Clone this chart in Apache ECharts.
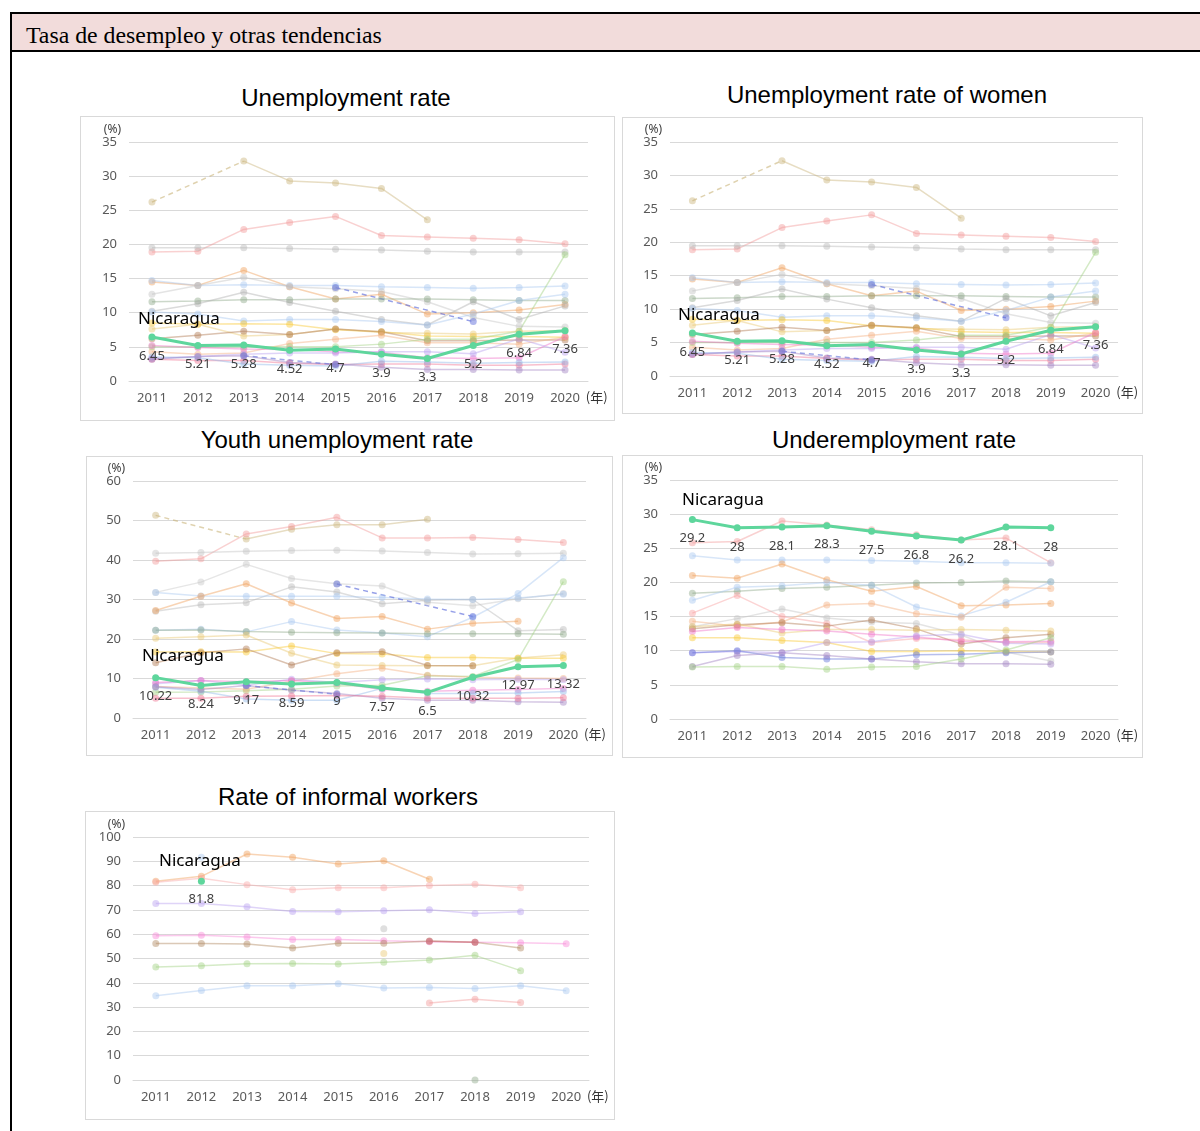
<!DOCTYPE html>
<html><head><meta charset="utf-8">
<script src="https://cdn.jsdelivr.net/npm/echarts@6/dist/echarts.min.js"></script>
<style>
body{margin:0;background:#fff;width:1200px;height:1131px;overflow:hidden;position:relative;font-family:'Liberation Sans',Arial,sans-serif;}
.frame{position:absolute;left:10px;top:12px;width:1200px;height:1130px;border-left:2px solid #000;border-top:2px solid #000;}
.hdr{position:absolute;left:12px;top:14px;width:1188px;height:38px;background:#f2dcdb;border-bottom:2px solid #000;font-family:'Liberation Serif','Times New Roman',serif;font-size:23.8px;line-height:42px;padding-left:14px;box-sizing:border-box;color:#000;}
.ttl{position:absolute;font-size:24px;color:#000;text-align:center;width:500px;line-height:28px;}
.box{position:absolute;border:1px solid #d9d9d9;box-sizing:border-box;background:#fff;}
</style></head>
<body>
<div class="frame"></div>
<div class="hdr">Tasa de desempleo y otras tendencias</div>
<div class="ttl" style="left:96px;top:84px">Unemployment rate</div>
<div class="ttl" style="left:637px;top:81px">Unemployment rate of women</div>
<div class="ttl" style="left:87px;top:426px">Youth unemployment rate</div>
<div class="ttl" style="left:644px;top:426px">Underemployment rate</div>
<div class="ttl" style="left:98px;top:783px">Rate of informal workers</div>
<div class="box" id="c1" style="left:80px;top:116px;width:535px;height:305px"></div>
<div class="box" id="c2" style="left:622px;top:117px;width:521px;height:297px"></div>
<div class="box" id="c3" style="left:86px;top:456px;width:527px;height:300px"></div>
<div class="box" id="c4" style="left:622px;top:455px;width:521px;height:303px"></div>
<div class="box" id="c5" style="left:85px;top:811px;width:530px;height:309px"></div>
<script>
// ---------- DATA ----------
const years = ['2011','2012','2013','2014','2015','2016','2017','2018','2019','2020'];

// Unemployment rate (also used by "Unemployment rate of women", which shows identical figures)
const unempNicaragua = [6.45, 5.21, 5.28, 4.52, 4.7, 3.9, 3.3, 5.2, 6.84, 7.36];
const unempOthers = [
  [26.2, null, 32.2, 29.3, 29.0, 28.2, 23.6, null, null, null],
  [18.9, 19.0, 22.2, 23.2, 24.1, 21.3, 21.1, 20.9, 20.7, 20.1],
  [19.5, 19.5, 19.5, 19.4, 19.3, 19.2, 19.0, 18.9, 18.9, 18.9],
  [14.5, 14.0, 16.2, 13.8, 12.0, 12.7, 9.8, 10.0, 10.4, 11.2],
  [14.7, 14.0, 14.1, 14.0, 14.0, 13.8, 13.7, 13.6, 13.7, 13.9],
  [12.7, 14.0, 15.2, 13.8, 13.5, 13.1, 11.6, 9.3, 8.0, 7.9],
  [11.6, 11.7, 11.9, 11.9, 12.0, 12.0, 12.0, 11.9, 11.8, 11.8],
  [10.2, 11.3, 13.0, 11.5, 10.2, 9.0, 8.2, 11.6, 9.0, 11.0],
  [10.1, 9.8, 8.8, 9.0, 9.0, 8.7, 8.2, 9.8, 11.8, 12.7],
  [null, null, null, null, 13.7, null, null, 8.7, null, null],
  [8.5, 8.3, 8.4, 8.3, 7.5, 7.2, 6.6, 6.5, 6.5, 6.4],
  [7.6, 8.3, 6.6, 6.8, 7.6, 7.1, 7.0, 6.9, 7.3, 7.4],
  [6.2, 6.7, 7.3, 6.8, 7.6, 7.2, 5.9, 5.9, 6.0, 6.0],
  [4.3, 3.9, 4.1, 5.5, 6.1, 6.7, 5.6, 5.6, 5.4, 6.4],
  [5.0, 5.0, 5.0, 5.0, 5.0, 5.4, 6.1, 6.1, 7.3, 18.5],
  [5.2, 4.9, 4.7, 4.6, 4.3, 4.2, 3.4, 3.3, 3.4, 6.5],
  [3.3, 3.6, 3.9, 4.1, 4.1, 4.3, 4.3, 4.0, 6.2, 4.2],
  [3.2, 3.0, 3.0, 2.6, 2.4, 2.5, 2.5, 2.3, 2.3, 2.5],
  [3.5, 3.4, 2.5, 2.3, 2.2, 2.9, 2.8, 2.6, 2.7, 2.8],
  [3.2, 3.6, 3.7, 2.7, 2.5, 2.0, 1.7, 1.7, 1.6, 1.6],
  [null, null, 3.7, null, 2.4, null, null, null, null, null]
];
const unempColors = ['#c9b47a','#f29a9a','#b8b8b8','#f0a05a','#a9c8f0','#c4c4c4','#8fa88a','#b0b0b0','#a9c8f0','#5060d8','#f8c830','#e8c870','#b07850','#f5b080','#a0d080','#f070c8','#b8a0f0','#f07090','#90b8e8','#a080c0','#6070d8'];

// Youth unemployment rate
const youthNicaragua = [10.22, 8.24, 9.17, 8.59, 9, 7.57, 6.5, 10.32, 12.97, 13.32];
const youthOthers = [
  [51.3, null, 45.3, 47.8, 48.9, 48.9, 50.3, null, null, null],
  [39.7, 40.3, 46.6, 48.5, 50.8, 45.6, 45.6, 45.7, 45.2, 44.4],
  [41.7, 41.9, 42.2, 42.4, 42.5, 42.3, 41.9, 41.5, 41.6, 41.7],
  [31.8, 34.4, 38.9, 35.3, 34.0, 33.4, 29.3, 28.4, 30.2, 31.5],
  [27.0, 28.7, 29.2, 33.2, 31.9, 28.9, 29.8, 30.0, 22.1, 22.4],
  [31.8, 30.9, 30.8, 30.8, 30.8, 30.5, 30.1, 30.0, 30.4, 31.3],
  [27.2, 30.8, 34.0, 29.1, 25.2, 25.7, 22.5, 24.0, 24.5, null],
  [22.2, 22.5, 21.8, 24.4, 22.3, 21.5, 20.6, 25.5, 31.5, 40.6],
  [22.2, 22.3, 21.9, 21.7, 21.6, 21.5, 21.3, 21.3, 21.3, 21.2],
  [null, null, null, null, 33.9, null, null, 25.7, null, null],
  [20.2, 20.6, 21.0, 16.4, 13.4, 13.3, 13.2, 13.2, 15.2, 16.0],
  [16.7, 16.8, 16.7, 18.2, 16.3, 16.2, 15.3, 15.3, 15.1, 15.1],
  [14.0, 16.5, 17.5, 13.4, 16.5, 16.8, 13.3, 13.2, null, null],
  [6.5, 6.6, 6.9, 7.3, 8.1, 8.3, 10.7, 10.5, 14.8, 34.5],
  [8.0, 7.6, 7.3, 9.3, 11.2, 12.6, 10.8, 10.3, 10.1, 10.0],
  [8.7, 9.5, 8.3, 9.8, 9.0, 9.7, 9.9, 9.7, 9.8, 9.7],
  [9.0, 9.5, 9.2, 9.5, 8.8, 7.2, 6.8, 7.0, 7.2, 7.5],
  [7.8, 6.8, 4.8, 4.5, 4.5, 7.5, 6.2, 6.2, 6.3, 6.7],
  [7.9, 7.2, 8.2, 7.0, 6.2, 5.0, 4.5, 4.5, 4.1, 4.0],
  [5.0, 5.0, 5.5, 5.6, 5.7, 5.5, 5.0, 5.0, 5.0, 5.1],
  [null, null, 8.2, null, 6.0, null, null, null, null, null]
];
const youthColors = ['#c9b47a','#f29a9a','#c4c4c4','#c8c8c8','#b8b8b8','#a9c8f0','#f0a05a','#a9c8f0','#8fa88a','#5060d8','#e8c870','#f8c830','#b07850','#a0d080','#f5b080','#b8a0f0','#f070c8','#90b8e8','#a080c0','#f07090','#6070d8'];

// Underemployment rate
const underNicaragua = [29.2, 28, 28.1, 28.3, 27.5, 26.8, 26.2, 28.1, 28, null];
const underOthers = [
  [25.8, 26.0, 29.0, 28.4, 27.7, 27.0, 26.2, 26.5, 22.9, null],
  [23.9, 23.3, 23.3, 23.3, 23.2, 23.1, 22.9, 22.9, 22.8, null],
  [21.0, 20.6, 22.7, 20.4, 18.7, 19.4, 16.6, 16.7, 16.9, null],
  [18.4, 18.7, 19.1, 19.3, 19.6, 19.9, 20.0, 20.2, 20.1, null],
  [17.4, 19.3, 19.5, 20.0, 19.6, 16.4, 15.1, 17.1, 20.1, null],
  [15.5, 18.1, 15.0, 14.0, 11.2, 11.8, 11.6, 11.2, 11.2, null],
  [14.3, 13.6, 14.2, 16.7, 16.9, 15.4, 14.9, 19.3, 19.1, null],
  [13.5, 14.7, 16.1, 14.8, 14.2, 14.0, 12.3, 9.8, 8.5, null],
  [13.2, 13.8, 14.1, 13.6, 14.5, 13.2, 11.0, 11.9, 12.4, null],
  [13.5, 13.9, 12.6, 13.1, 13.1, 13.0, 13.1, 13.0, 12.9, null],
  [12.8, 13.4, 13.1, 12.9, 12.4, 12.0, 11.4, 11.3, 11.4, null],
  [11.9, 11.9, 11.5, 11.2, 9.9, 9.9, 10.0, 9.9, 9.8, null],
  [9.7, 9.9, 9.7, 11.2, 11.3, 12.2, 12.4, 11.1, 11.0, null],
  [9.7, 10.0, 9.0, 8.8, 8.8, 9.4, 9.5, 9.7, 9.8, null],
  [7.7, 9.3, 9.7, 9.3, 8.8, 8.4, 8.1, 8.1, 8.0, null],
  [7.6, 7.7, 7.7, 7.3, 7.6, 7.7, 8.8, 10.1, 11.9, null]
];
const underColors = ['#f29a9a','#a9c8f0','#f0a05a','#8fa88a','#a9c8f0','#f8a0a0','#f5b080','#c4c4c4','#b07850','#e8c870','#f070c8','#f8c830','#b8a0f0','#6070d8','#a080c0','#a0d080'];

// Rate of informal workers
const informalNicaragua = [null, 81.8, null, null, null, null, null, null, null, null];
const informalOthers = [
  [81.8, 83.8, 93.0, 91.7, 88.9, 90.2, 82.6, null, null, null],
  [81.4, 83.0, 80.4, 78.3, 79.1, 79.1, 80.0, 80.6, 79.1, null],
  [null, 91.7, null, null, null, null, null, null, null, null],
  [72.6, 72.6, 71.3, 69.3, 69.2, 69.6, 70.1, 68.5, 69.2, null],
  [null, null, null, null, null, 62.2, null, null, null, null],
  [59.4, 59.6, 58.8, 57.8, 57.8, 57.3, 56.9, 56.7, 56.5, 56.1],
  [56.2, 56.2, 56.0, 54.3, 56.3, 56.3, 57.2, 56.7, 54.3, null],
  [null, null, null, null, null, null, 57.1, 56.7, null, null],
  [null, null, null, null, null, 52.1, null, null, null, null],
  [46.5, 47.0, 47.8, 47.9, 47.7, 48.5, 49.4, 51.3, 45.0, null],
  [34.7, 36.8, 38.8, 38.8, 39.6, 37.9, 38.1, 37.7, 38.8, 36.7],
  [null, null, null, null, null, null, 31.7, 33.2, 31.9, null],
  [null, null, null, null, null, null, null, 0, null, null]
];
const informalColors = ['#f0a05a','#f8a8a8','#a9c8f0','#b8a0f0','#b8b8b8','#f888d8','#b08860','#d06070','#e8c870','#a0d080','#a9c8f0','#f29a9a','#8fa88a'];

// ---------- CHART BUILDER ----------
const NIC_COLOR = '#5ed69c';
const FONT = "'Noto Sans','Liberation Sans',sans-serif";

function gapSeries(vals){
  // keep only the points bounding interior gaps, so they can be joined with a dashed line
  const out = vals.map(()=>null);
  let found = false;
  for(let i=0;i<vals.length;i++){
    if(vals[i]==null) continue;
    let j=i+1;
    while(j<vals.length && vals[j]==null) j++;
    if(j<vals.length && j>i+1){ out[i]=vals[i]; out[j]=vals[j]; found=true; }
  }
  return found ? out : null;
}

function build(id, cfg){
  const chart = echarts.init(document.getElementById(id), null, {renderer:'canvas'});
  const series = [];
  cfg.others.forEach((vals, k)=>{
    const col = cfg.colors[k % cfg.colors.length];
    series.push({
      type:'line', data: vals, connectNulls:false, symbol:'circle', symbolSize:7,
      showAllSymbol:true, animation:false, silent:true,
      lineStyle:{color:col, width:1.5, opacity:0.45},
      itemStyle:{color:col, opacity:0.45}, z:2
    });
    const g = gapSeries(vals);
    if(g){
      series.push({
        type:'line', data:g, connectNulls:true, symbol:'none', animation:false, silent:true,
        lineStyle:{color:col, width:1.5, opacity:0.6, type:[5,4]}, z:2
      });
    }
  });
  series.push({
    type:'line', data: cfg.nic, connectNulls:false, symbol:'circle', symbolSize:7, showAllSymbol:true,
    animation:false, lineStyle:{color:NIC_COLOR, width:3}, itemStyle:{color:NIC_COLOR}, z:10,
    label:{show:true, position:'bottom', distance:cfg.labelDist||9, color:'#404040', fontSize:13, fontFamily:FONT}
  });
  chart.setOption({
    animation:false,
    grid: cfg.grid,
    xAxis:{
      type:'category', data: years, boundaryGap:true,
      axisLine:{show:true, lineStyle:{color:'#d9d9d9', width:1}}, axisTick:{show:false},
      axisLabel:{color:'#595959', fontSize:13, fontFamily:FONT, margin:11, interval:0},
      name:'(年)', nameLocation:'end', nameGap:-5,
      nameTextStyle:{color:'#333', fontSize:13, fontFamily:"'Noto Sans CJK JP','Noto Sans',sans-serif", verticalAlign:'top', align:'left', padding:[10,0,0,0]}
    },
    yAxis:{
      type:'value', min:0, max:cfg.max, interval:cfg.interval,
      axisLine:{show:false}, axisTick:{show:false},
      splitLine:{lineStyle:{color:'#d9d9d9', width:1}},
      axisLabel:{color:'#595959', fontSize:13, fontFamily:FONT, margin:12},
      name:'(%)', nameLocation:'end', nameGap:2,
      nameTextStyle:{color:'#404040', fontSize:12, fontFamily:FONT, align:'right', padding:[0,8,0,0]}
    },
    graphic:[{type:'text', left:cfg.nicPos[0], top:cfg.nicPos[1], style:{text:'Nicaragua', font:"17px "+FONT, fill:'#000'}, z:20}],
    series
  });
}

build('c1', {grid:{left:48, top:25, width:459, height:239}, max:35, interval:5, others:unempOthers, colors:unempColors, nic:unempNicaragua, nicPos:[57,194]});
build('c2', {grid:{left:47, top:24, width:448, height:234}, max:35, interval:5, others:unempOthers, colors:unempColors, nic:unempNicaragua, nicPos:[55,189]});
build('c3', {grid:{left:46, top:24, width:453, height:237}, max:60, interval:10, others:youthOthers, colors:youthColors, nic:youthNicaragua, nicPos:[55,191]});
build('c4', {grid:{left:47, top:24, width:448, height:239}, max:35, interval:5, others:underOthers, colors:underColors, nic:underNicaragua, nicPos:[59,36]});
build('c5', {grid:{left:47, top:25, width:456, height:243}, max:100, interval:10, others:informalOthers, colors:informalColors, nic:informalNicaragua, nicPos:[73,41], labelDist:8});
</script>
</body></html>
